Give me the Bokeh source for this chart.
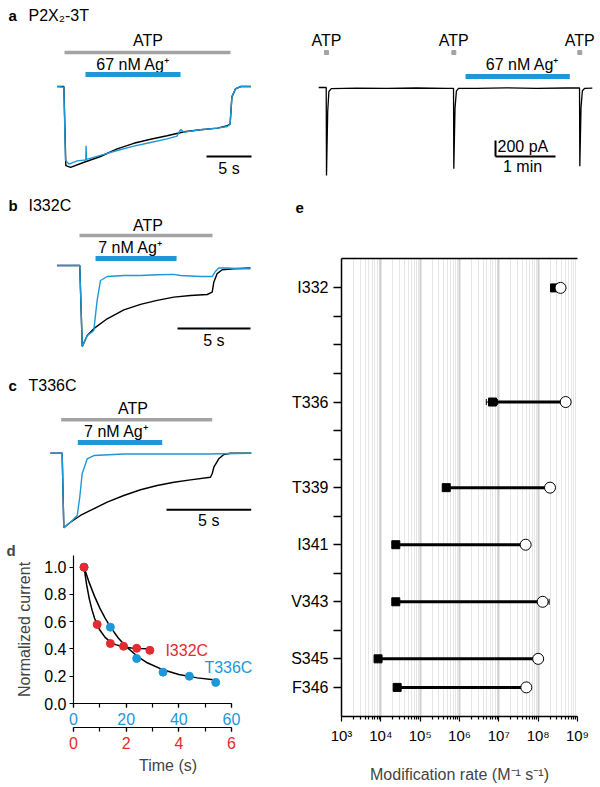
import json
from bokeh.plotting import figure
from bokeh.models import (Range1d, LinearAxis, FixedTicker, SingleIntervalTicker,
                          CustomJSTickFormatter, NumeralTickFormatter)
from bokeh.layouts import column, row
from bokeh.embed import file_html
from bokeh.resources import INLINE
from bokeh.core.properties import value

FONT = "Liberation Sans"
BLUE = "#1d97d7"
RED = "#e52a30"
GRAY = "#a3a3a3"
FS = "16px"
LETTER = "15px"

# ---------------- data ----------------
# panel a (left): time (s) vs normalized current
a_t_black = [-0.8, -0.07, 0.15, 0.67, 2.1, 4.0, 5.85, 7.7, 9.56, 11.4, 13.3, 15.1, 17.0, 18.1, 18.4, 18.6, 19.0, 19.6, 20.7]
a_i_black = [0, 0, -0.99, -1.01, -0.95, -0.875, -0.78, -0.71, -0.66, -0.615, -0.565, -0.54, -0.52, -0.49, -0.47, -0.13, -0.03, 0, 0]
a_t_blue = [-0.8, -0.07, 0.11, 0.48, 1.41, 2.14, 2.36, 2.4, 2.44, 4.0, 5.85, 7.7, 9.56, 11.4, 12.5, 12.9, 13.3, 15.1, 17.0, 18.1, 18.4, 18.6, 19.0, 19.6, 20.7]
a_i_blue = [0, -0.01, -0.92, -0.97, -0.93, -0.92, -0.92, -0.74, -0.91, -0.86, -0.80, -0.745, -0.70, -0.655, -0.62, -0.54, -0.57, -0.54, -0.52, -0.50, -0.47, -0.13, -0.03, 0, 0]
a_atp = [0.0, 18.44]
a_ag = [2.33, 12.89]

# panel a (right): time (min) vs current (pA)
ar_t = [-0.13, -0.005, 0.0, 0.02, 0.04, 0.08, 0.5, 1.0, 1.5, 2.0, 2.117, 2.122, 2.142, 2.165, 2.2, 2.5, 3.0, 3.5, 4.0, 4.217, 4.222, 4.242, 4.265, 4.3, 4.43]
ar_i = [0, 0, -1100, -300, -50, -15, -8, -12, -6, -10, -10, -1015, -260, -45, -12, -10, -5, -12, -6, -6, -985, -250, -40, -12, -8]
ar_atp = [0.0, 2.122, 4.222]
ar_ag = [2.317, 4.055]

# panel b: time (s) vs normalized current
b_t_black = [-1.6, -0.05, 0.12, 0.46, 0.91, 1.83, 2.97, 4.11, 5.25, 6.39, 7.53, 8.68, 9.02, 9.13, 9.36, 9.7, 10.5, 11.64]
b_i_black = [0, 0, -1.0, -0.864, -0.78, -0.658, -0.547, -0.48, -0.43, -0.39, -0.37, -0.358, -0.33, -0.206, -0.10, -0.053, -0.04, -0.03]
b_t_blue = [-1.6, -0.05, 0.12, 0.46, 0.8, 0.91, 1.14, 1.37, 1.83, 2.97, 4.11, 5.25, 6.39, 6.85, 8.22, 9.02, 9.25, 9.47, 10.05, 10.96, 11.64]
b_i_blue = [0, 0, -1.0, -0.864, -0.82, -0.80, -0.43, -0.185, -0.136, -0.123, -0.123, -0.115, -0.11, -0.123, -0.136, -0.136, -0.07, -0.03, -0.03, -0.04, -0.04]
b_atp = [-0.068, 9.04]
b_ag = [1.03, 6.58]

# panel c: time (s) vs normalized current
c_t_black = [-0.71, -0.02, 0.077, 0.47, 1.06, 1.65, 2.64, 3.62, 4.61, 5.59, 6.58, 7.56, 8.74, 8.84, 8.94, 9.23, 9.53, 9.92, 11.15]
c_i_black = [0, 0, -1.0, -0.925, -0.835, -0.768, -0.656, -0.567, -0.49, -0.433, -0.389, -0.357, -0.322, -0.276, -0.188, -0.075, -0.017, 0, 0]
c_t_blue = [-0.71, -0.02, 0.077, 0.47, 0.87, 1.02, 1.16, 1.46, 1.85, 3.62, 6.58, 8.55, 11.15]
c_i_blue = [0, 0, -1.0, -0.925, -0.835, -0.59, -0.276, -0.075, -0.031, -0.01, -0.01, -0.01, 0]
c_atp = [-0.077, 8.842]
c_ag = [0.904, 5.889]

# panel d
d_t_red = [0.4, 0.9, 1.4, 1.9, 2.4, 2.9]          # s
d_y_red = [1.0, 0.58, 0.44, 0.42, 0.405, 0.39]
d_t_blue = [4, 14, 24, 34, 44, 54]                 # s
d_y_blue = [1.0, 0.56, 0.33, 0.23, 0.20, 0.155]
fit_t_red = [0.4, 0.5, 0.6, 0.7, 0.8, 0.9, 1.0, 1.2, 1.4, 1.6, 1.9, 2.2, 2.5, 2.9]
fit_y_red = [1.0, 0.870, 0.768, 0.689, 0.626, 0.577, 0.539, 0.485, 0.452, 0.432, 0.415, 0.407, 0.403, 0.401]
fit_t_blue = [4, 6, 8, 10, 12, 14, 17, 20, 24, 28, 34, 40, 47, 54]
fit_y_blue = [1.0, 0.885, 0.786, 0.700, 0.626, 0.562, 0.481, 0.417, 0.350, 0.299, 0.247, 0.213, 0.188, 0.173]

# panel e
e_res = [332, 336, 339, 341, 343, 345, 346]
e_names = ["I332", "T336", "T339", "I341", "V343", "S345", "F346"]
e_closed = [2.6e8, 6.9e6, 4.6e5, 2.4e4, 2.4e4, 8.5e3, 2.6e4]
e_open = [3.7e8, 5.0e8, 2.0e8, 4.8e7, 1.3e8, 1.0e8, 5.0e7]
e_err_res = [336, 343]
e_err_lo = [4.8e6, 1.3e8]
e_err_hi = [9.2e6, 1.9e8]
e_decades = [1e3, 1e4, 1e5, 1e6, 1e7, 1e8, 1e9]


# ---------------- helpers ----------------
def trace_fig(w, h, xr, yr):
    p = figure(width=w, height=h, x_range=Range1d(*xr), y_range=Range1d(*yr),
               x_axis_location=None, y_axis_location=None, toolbar_location=None,
               output_backend="svg", min_border=0, outline_line_color=None,
               background_fill_color="white", border_fill_color="white")
    p.xgrid.visible = False
    p.ygrid.visible = False
    return p


def txt(p, x, y, s, align="center", size=FS, color="black", bold=False):
    p.text(x=[x], y=[y], text=[s], text_align=align, text_baseline="middle",
           text_font=value(FONT), text_font_size=size, text_color=color,
           text_font_style="bold" if bold else "normal")


def bar(p, x0, x1, y, color, w):
    p.segment(x0=[x0], y0=[y], x1=[x1], y1=[y], line_color=color, line_width=w)


# ---------------- panel a left ----------------
pa = trace_fig(300, 188, (-7.111, 26.222), (-1.275, 1.075))
txt(pa, -6.222, 0.8875, "a", align="left", size=LETTER, bold=True)
txt(pa, -4.0, 0.8875, "P2X₂-3T", align="left")
txt(pa, 9.28, 0.575, "ATP")
bar(pa, a_atp[0], a_atp[1], 0.425, GRAY, 3.5)
txt(pa, 7.61, 0.275, "67 nM Ag⁺")
bar(pa, a_ag[0], a_ag[1], 0.15, BLUE, 5)
pa.line(a_t_black, a_i_black, line_color="black", line_width=1.4)
pa.line(a_t_blue, a_i_blue, line_color=BLUE, line_width=1.4)
bar(pa, 15.78, 20.78, -0.875, "black", 2)
txt(pa, 18.28, -1.025, "5 s")

# ---------------- panel a right ----------------
pr = trace_fig(300, 188, (-0.4333, 4.5667), (-1262.5, 1087.5))
for t in ar_atp:
    txt(pr, t, 587.5, "ATP")
pr.scatter(ar_atp, [437.5] * len(ar_atp), marker="square", size=4, color=GRAY)
txt(pr, 3.267, 287.5, "67 nM Ag⁺")
bar(pr, ar_ag[0], ar_ag[1], 137.5, BLUE, 5)
pr.line(ar_t, ar_i, line_color="black", line_width=1.3)
pr.segment(x0=[2.817, 2.817], y0=[-662.5, -862.5], x1=[2.817, 3.817], y1=[-862.5, -862.5],
           line_color="black", line_width=2)
txt(pr, 2.85, -737.5, "200 pA", align="left")
txt(pr, 3.267, -983, "1 min")

# ---------------- panel b ----------------
pb = trace_fig(285, 167, (-5.479, 14.041), (-1.1111, 0.9506))
txt(pb, -4.932, 0.741, "b", align="left", size=LETTER, bold=True)
txt(pb, -3.562, 0.741, "I332C", align="left")
txt(pb, 4.62, 0.494, "ATP")
bar(pb, b_atp[0], b_atp[1], 0.370, GRAY, 3.5)
txt(pb, 3.42, 0.222, "7 nM Ag⁺")
bar(pb, b_ag[0], b_ag[1], 0.0864, BLUE, 5)
pb.line(b_t_black, b_i_black, line_color="black", line_width=1.4)
pb.line(b_t_blue, b_i_blue, line_color=BLUE, line_width=1.4)
bar(pb, 6.644, 11.644, -0.778, "black", 2)
txt(pb, 9.14, -0.920, "5 s")

# ---------------- panel c ----------------
pc = trace_fig(285, 180, (-3.662, 13.172), (-1.1032, 1.3097))
txt(pc, -3.190, 0.908, "c", align="left", size=LETTER, bold=True)
txt(pc, -2.008, 0.908, "T336C", align="left")
txt(pc, 4.16, 0.595, "ATP")
bar(pc, c_atp[0], c_atp[1], 0.448, GRAY, 3.5)
txt(pc, 3.18, 0.295, "7 nM Ag⁺")
bar(pc, c_ag[0], c_ag[1], 0.1434, BLUE, 5)
pc.line(c_t_black, c_i_black, line_color="black", line_width=1.4)
pc.line(c_t_blue, c_i_blue, line_color=BLUE, line_width=1.4)
bar(pc, 6.143, 11.146, -0.759, "black", 2)
txt(pc, 8.64, -0.902, "5 s")

# ---------------- panel d ----------------
pd_ = figure(width=285, height=252, x_range=Range1d(0, 71.77), y_range=Range1d(0, 1.086),
             toolbar_location=None, output_backend="svg", outline_line_color=None,
             min_border_left=73, min_border_right=23, min_border_top=20, min_border_bottom=84)
pd_.extra_x_ranges = {"red": Range1d(0, 7.177)}
pd_.xgrid.visible = False
pd_.ygrid.visible = False
pd_.title.text = "d"
pd_.title.align = "left"
pd_.title.offset = -67
pd_.title.standoff = -6
pd_.title.text_font = FONT
pd_.title.text_font_size = LETTER
pd_.title.text_font_style = "bold"


def style_axis(ax, color="black"):
    ax.axis_line_width = 1.2
    ax.major_tick_line_width = 1.2
    ax.minor_tick_line_width = 1.2
    ax.major_tick_in = 0
    ax.major_tick_out = 4
    ax.minor_tick_in = 0
    ax.minor_tick_out = 4
    ax.major_label_text_font = FONT
    ax.major_label_text_font_size = FS
    ax.major_label_text_color = color
    ax.major_label_standoff = 3
    ax.axis_label_text_font = FONT
    ax.axis_label_text_font_size = FS
    ax.axis_label_text_font_style = "normal"


xa = pd_.xaxis[0]
xa.ticker = SingleIntervalTicker(interval=20, num_minor_ticks=2)
xa.bounds = (0, 60)
style_axis(xa, BLUE)
xa.major_label_standoff = 5
ya = pd_.yaxis[0]
ya.ticker = FixedTicker(ticks=[0, 0.2, 0.4, 0.6, 0.8, 1.0])
ya.formatter = NumeralTickFormatter(format="0.0")
style_axis(ya)
ya.minor_tick_line_color = None
ya.axis_label = "Normalized current"
ya.axis_label_standoff = 8
xa2 = LinearAxis(x_range_name="red", ticker=SingleIntervalTicker(interval=2, num_minor_ticks=2),
                 axis_label="Time (s)", bounds=(0, 6))
style_axis(xa2, RED)
xa2.major_label_standoff = 5
xa2.axis_label_standoff = 5
pd_.add_layout(xa2, "below")

pd_.line(fit_t_red, fit_y_red, x_range_name="red", line_color="black", line_width=1.5)
pd_.line(fit_t_blue, fit_y_blue, line_color="black", line_width=1.5)
pd_.scatter(d_t_blue, d_y_blue, size=8, color=BLUE)
pd_.scatter(d_t_red, d_y_red, x_range_name="red", size=8, color=RED)
txt(pd_, 34.9, 0.389, "I332C", align="left", color=RED)
txt(pd_, 49.7, 0.262, "T336C", align="left", color=BLUE)

# ---------------- panel e ----------------
pe_lab = trace_fig(315, 42, (285, 600), (230, 188))
txt(pe_lab, 295, 207, "e", align="left", size=LETTER, bold=True)

pe = figure(width=315, height=557, x_axis_type="log", x_range=Range1d(1e3, 1e9),
            y_range=Range1d(347.02, 330.97), toolbar_location=None, output_backend="svg",
            outline_line_color=None, min_border_left=56, min_border_right=23,
            min_border_top=28, min_border_bottom=71)
minor = [m * d for d in e_decades[:-1] for m in range(2, 10)]
tk = FixedTicker(ticks=e_decades, minor_ticks=minor)
ex = pe.xaxis[0]
ex.ticker = tk
pe.xgrid.ticker = tk
pe.xgrid.grid_line_color = "#cfcfcf"
pe.xgrid.grid_line_width = 2
pe.xgrid.minor_grid_line_color = "#e6e6e6"
pe.xgrid.minor_grid_line_width = 1
pe.ygrid.visible = False
ex.formatter = CustomJSTickFormatter(code="""
const sup = {"0":"\u2070","1":"\u00b9","2":"\u00b2","3":"\u00b3","4":"\u2074","5":"\u2075","6":"\u2076","7":"\u2077","8":"\u2078","9":"\u2079","-":"\u207b"};
const e = Math.round(Math.log10(tick));
return "10" + String(e).split("").map(c => sup[c]).join("");
""")
style_axis(ex)
ex.major_label_text_font_size = "15px"
ex.axis_line_width = 1.5
ex.major_tick_out = 5
ex.minor_tick_out = 3
ex.major_label_standoff = 5
ex.axis_label = "Modification rate (M⁻¹ s⁻¹)"
ex.axis_label_standoff = 19

ey = pe.yaxis[0]
ey.ticker = FixedTicker(ticks=list(range(332, 347)))
name_map = json.dumps({str(r): n for r, n in zip(e_res, e_names)})
ey.formatter = CustomJSTickFormatter(code="const m = %s; const k = String(Math.round(tick)); return (k in m) ? m[k] : '';" % name_map)
style_axis(ey)
ey.axis_line_width = 1.5
ey.major_tick_out = 8
ey.major_tick_line_width = 1.5
ey.minor_tick_line_color = None
ey.major_label_standoff = 5

top = LinearAxis(ticker=FixedTicker(ticks=[]), major_label_text_font_size="0px",
                 major_tick_line_color=None, minor_tick_line_color=None, axis_line_width=1.5)
pe.add_layout(top, "above")

pe.segment(x0=e_err_lo, y0=e_err_res, x1=e_err_hi, y1=e_err_res, line_color="black", line_width=1)
pe.scatter(e_err_lo + e_err_hi, e_err_res + e_err_res, marker="dash", angle=1.5708, size=6,
           line_color="black", line_width=1)
pe.segment(x0=e_closed, y0=e_res, x1=e_open, y1=e_res, line_color="black", line_width=3)
pe.scatter(e_closed, e_res, marker="square", size=8, color="black")
pe.scatter(e_open, e_res, marker="circle", size=11, fill_color="white", line_color="black", line_width=1)

left_col = column(row(pb), row(pc), row(pd_))
right_col = column(row(pe_lab), row(pe))
layout = column(row(pa, pr), row(left_col, right_col))
open("out.html", "w").write(file_html(layout, INLINE))
